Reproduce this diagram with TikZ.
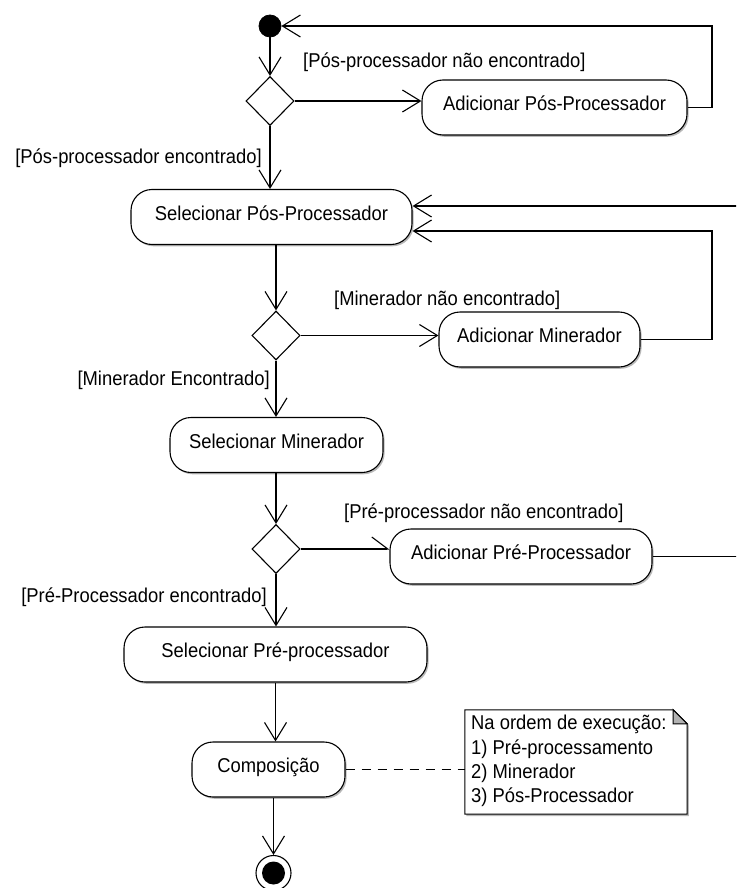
\documentclass[tikz,border=0pt]{standalone}
\usepackage{fontspec}
\setmainfont[FakeStretch=0.92]{Liberation Sans}
\usetikzlibrary{arrows.meta,shapes.geometric,shadows}

\begin{document}
\begin{tikzpicture}[x=1pt,y=-1pt,
  font=\fontsize{20}{24.3}\selectfont,
  softshadow/.style={drop shadow={shadow xshift=1.6pt,shadow yshift=-1.8pt,fill=black,opacity=0.28}},
  wire/.style={line width=1.1pt},
  flow/.style={wire,-{Straight Barb[length=18pt,width=22pt]}},
  halfflow/.style={wire,-{Straight Barb[length=16pt,width=24pt,harpoon]}},
  action/.style={draw,line width=1.1pt,rounded corners=21pt,fill=white,
    minimum height=55pt,inner sep=0pt,text height=12pt,text depth=5.2pt,softshadow},
  decision/.style={draw,diamond,line width=1.1pt,fill=white,
    minimum width=48pt,minimum height=49pt,inner sep=0pt},
  guard/.style={inner sep=0pt},
  initial/.style={circle,fill=black,draw=black,line width=0.8pt,minimum size=22pt,inner sep=0pt},
  final/.style={circle,draw=black,line width=1.1pt,fill=white,minimum size=35pt,inner sep=0pt,
    path picture={\fill[black] (path picture bounding box.center) circle[radius=11.5pt];}},
]
\useasboundingbox (0,0) rectangle (736,888);
\clip (0,0) rectangle (736,888);
\fill[white] (0,0) rectangle (736,888);

% return rails on the right
\coordinate (railA) at (712,0);
\coordinate (railB) at (752,0);

% nodes
\node[initial] (start) at (270,26) {};
\node[decision] (d1) at (270,101) {};
\node[action,minimum width=265pt] (addpos) at (554.5,107.5) {Adicionar Pós-Processador};
\node[action,minimum width=281pt] (selpos) at (271.5,217) {Selecionar Pós-Processador};
\node[decision] (d2) at (276,335.5) {};
\node[action,minimum width=201pt] (addmin) at (539.5,339.5) {Adicionar Minerador};
\node[action,minimum width=213pt] (selmin) at (276.5,445) {Selecionar Minerador};
\node[decision] (d3) at (276,549) {};
\node[action,minimum width=262pt] (addpre) at (521,556.5) {Adicionar Pré-Processador};
\node[action,minimum width=303pt] (selpre) at (275.5,654.5) {Selecionar Pré-processador};
\node[action,minimum width=153pt] (comp) at (268.5,769.5) {Composição};
\node[final] (end) at (273.5,873) {};

% guard labels
\node[guard,anchor=west] (g1) at (303,62) {[Pós-processador não encontrado]};
\node[guard,anchor=east] (g2) at (262,158) {[Pós-processador encontrado]};
\node[guard,anchor=west] (g3) at (334,300) {[Minerador não encontrado]};
\node[guard,anchor=east] (g4) at (270,380) {[Minerador Encontrado]};
\node[guard,anchor=west] (g5) at (344,513) {[Pré-processador não encontrado]};
\node[guard,anchor=east] (g6) at (267,597) {[Pré-Processador encontrado]};

% comment note with folded corner
\node[minimum width=222pt,minimum height=104pt,inner sep=0pt] (note) at (576,762) {};
\path[fill=white,softshadow]
  (note.north west) -- ([xshift=-14pt]note.north east) -- ([yshift=-14pt]note.north east)
  -- (note.south east) -- (note.south west) -- cycle;
\draw[line width=1pt]
  (note.north west) -- ([xshift=-14pt]note.north east) -- ([yshift=-14pt]note.north east)
  -- (note.south east) -- (note.south west) -- cycle;
\filldraw[fill=black!30,line width=1pt]
  ([xshift=-14pt]note.north east) -- ([xshift=-14pt,yshift=-14pt]note.north east)
  -- ([yshift=-14pt]note.north east) -- cycle;
\node[anchor=north west,inner sep=0pt,align=left] (notetext) at (471,715)
  {Na ordem de execução:\\1) Pré-processamento\\2) Minerador\\3) Pós-Processador};

% control flow
\draw[flow] (start.south) -- (d1.north);
\draw[flow] (d1.east) -- (d1.east -| addpos.west);
\draw[flow] (addpos.east) -- (addpos.east -| railA) |- (start.east);
\draw[flow] (d1.south) -- (d1.south |- selpos.north);
\draw[flow] (selpos.south -| d2) -- (d2.north);
\draw[flow] (d2.east) -- (d2.east -| addmin.west);
\draw[flow] (addmin.east) -- (addmin.east -| railA) |- ([yshift=-14pt]selpos.east);
\draw[flow] (d2.south) -- (d2.south |- selmin.north);
\draw[flow] (selmin.south -| d3) -- (d3.north);
\draw[halfflow] (d3.east) -- (d3.east -| addpre.west);
\draw[flow] (addpre.east) -- (addpre.east -| railB) |- ([yshift=11pt]selpos.east);
\draw[flow] (d3.south) -- (d3.south |- selpre.north);
\draw[flow] (selpre.south) -- (selpre.south |- comp.north);
\draw[flow] (comp.south -| end) -- (end.north);
\draw[wire,dashed,dash pattern=on 9pt off 7pt] (comp.east) -- (comp.east -| note.west);
\end{tikzpicture}
\end{document}
